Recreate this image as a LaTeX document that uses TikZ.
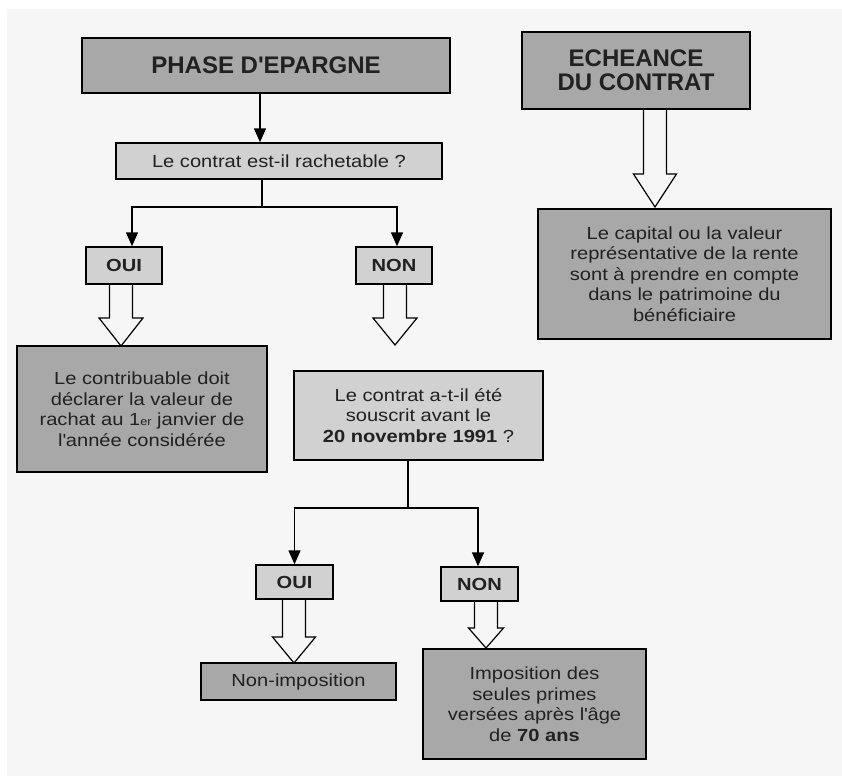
\documentclass[tikz,border=0pt]{standalone}
\usepackage{fontspec}
\setmainfont{Liberation Sans}[FakeStretch=1.15]
\newfontfamily\titlefont{Liberation Sans}
\usetikzlibrary{arrows.meta,calc}
\definecolor{BackClr}{rgb}{0.965,0.965,0.965}
\definecolor{DarkClr}{rgb}{0.66,0.66,0.66}
\definecolor{LightClr}{rgb}{0.82,0.82,0.82}
\definecolor{TextClr}{rgb}{0.13,0.13,0.13}

\newcommand{\HollowArrow}[4]{%
  \draw[bigarrow] let \p1=(#1.south), \p2=(#2) in
    (\x2-11.5pt,\y1) -- (\x2-11.5pt,\y2+#4) -- (\x2-#3,\y2+#4) -- (\x2,\y2)
    -- (\x2+#3,\y2+#4) -- (\x2+11.5pt,\y2+#4) -- (\x2+11.5pt,\y1);}

\begin{document}
\begin{tikzpicture}[x=1pt,y=-1pt,
  darkbox/.style={draw=black,line width=1.4pt,fill=DarkClr,text=TextClr,align=center,inner sep=0pt},
  lightbox/.style={darkbox,fill=LightClr},
  title/.style={font=\titlefont\bfseries\fontsize{24}{24}\selectfont},
  body/.style={font=\fontsize{17.5}{20.5}\selectfont},
  answer/.style={font=\bfseries\fontsize{17.5}{20.5}\selectfont},
  link/.style={line width=1.4pt},
  arr/.style={link,-{Triangle[width=12pt,length=14pt]}},
  bigarrow/.style={line width=1.2pt,line join=miter}]

\useasboundingbox (0,0) rectangle (842,776);
\fill[white] (0,0) rectangle (842,776);
\fill[BackClr] (7,9) rectangle (842,776);

\node[darkbox,title,minimum width=368pt,minimum height=55pt] (phase) at (266,65.5) {PHASE D\textquotesingle EPARGNE};
\node[darkbox,title,minimum width=228pt,minimum height=77pt] (echeance) at (636,70.5) {ECHEANCE\\DU CONTRAT};
\node[lightbox,body,minimum width=326pt,minimum height=36pt] (rachat) at (279,161) {Le contrat est-il rachetable ?};
\node[lightbox,answer,minimum width=76pt,minimum height=37pt] (oui1) at (124,265.5) {OUI};
\node[lightbox,answer,minimum width=76pt,minimum height=37pt] (non1) at (394,265.5) {NON};
\node[darkbox,body,minimum width=293pt,minimum height=130pt] (capital) at (684.5,274) {Le capital ou la valeur\\repr\'esentative de la rente\\sont \`a prendre en compte\\dans le patrimoine du\\b\'en\'eficiaire};
\node[darkbox,body,minimum width=250pt,minimum height=126pt] (contrib) at (142,409) {Le contribuable doit\\d\'eclarer la valeur de\\rachat au 1{\fontsize{11}{11}\selectfont er} janvier de\\l\textquotesingle ann\'ee consid\'er\'ee};
\node[lightbox,body,minimum width=249pt,minimum height=89pt] (avant) at (418.5,415.5) {Le contrat a-t-il \'et\'e\\souscrit avant le\\\textbf{20 novembre 1991} ?};
\node[lightbox,answer,minimum width=77pt,minimum height=34pt] (oui2) at (294.5,582) {OUI};
\node[lightbox,answer,minimum width=77pt,minimum height=34pt] (non2) at (479.5,584) {NON};
\node[darkbox,body,minimum width=195pt,minimum height=37pt] (nonimp) at (298.5,681.5) {Non-imposition};
\node[darkbox,body,minimum width=223pt,minimum height=110pt] (impos) at (534.5,704) {Imposition des\\seules primes\\vers\'ees apr\`es l\textquotesingle\^age\\de \textbf{70 ans}};

\coordinate (fork1) at (262,207);
\coordinate (fork2) at (408,508);
\coordinate (captip) at (655,207);
\coordinate (contribtip) at (121,346);
\coordinate (avanttip) at (395,345);
\coordinate (nonimptip) at (294,663);
\coordinate (impostip) at (486,648);

\draw[arr] ([xshift=-6pt]phase.south) -- ([xshift=-19pt]rachat.north);
\draw[link] ([xshift=-17pt]rachat.south) -- (fork1);
\draw[arr] (fork1) -| ([xshift=8pt]oui1.north);
\draw[arr] (fork1) -| ([xshift=3pt]non1.north);
\draw[link] ([xshift=-10.5pt]avant.south) -- (fork2);
\draw[arr] (fork2) -| (oui2.north);
\draw[arr] (fork2) -| ([xshift=-1.5pt]non2.north);

\HollowArrow{echeance}{captip}{21.5pt}{33pt}
\HollowArrow{oui1}{contribtip}{22pt}{28pt}
\HollowArrow{non1}{avanttip}{22pt}{27pt}
\HollowArrow{oui2}{nonimptip}{21.5pt}{26pt}
\HollowArrow{non2}{impostip}{17.5pt}{20pt}

\end{tikzpicture}
\end{document}
